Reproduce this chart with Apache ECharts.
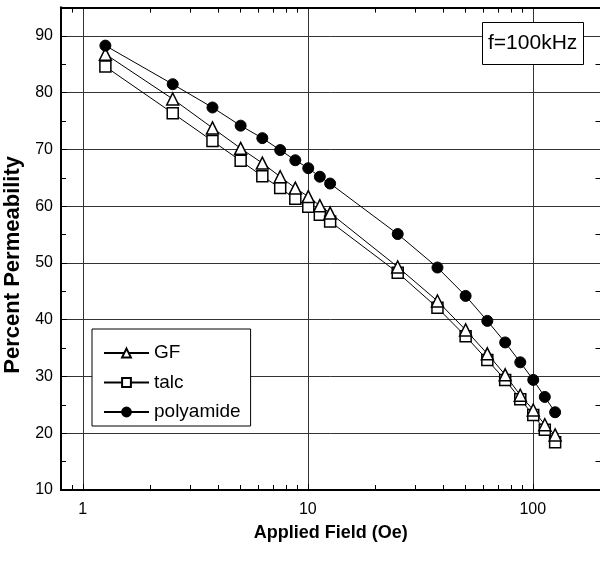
<!DOCTYPE html>
<html>
<head>
<meta charset="utf-8">
<script src="https://cdn.jsdelivr.net/npm/echarts@6/dist/echarts.min.js"></script>
<style>
  html, body { margin: 0; padding: 0; background: #fff; }
  #chart { width: 600px; height: 561px; }
</style>
</head>
<body>
<div id="chart"></div>
<script>
// applied field values (Oe), shared by all three samples
const fieldOe = [1.26, 2.51, 3.77, 5.03, 6.28, 7.54, 8.8, 10.05, 11.31, 12.57,
  25.1, 37.7, 50.3, 62.8, 75.4, 88.0, 100.5, 113.1, 125.7];

const gfValues = [86.8, 78.9, 73.8, 70.2, 67.6, 65.2, 63.2, 61.7, 60.1, 58.8,
  49.3, 43.3, 38.2, 34.0, 30.3, 26.7, 24.1, 21.5, 19.7];
const talcValues = [84.6, 76.4, 71.5, 68.0, 65.3, 63.2, 61.3, 59.9, 58.5, 57.3,
  48.3, 42.1, 37.1, 32.9, 29.4, 26.0, 23.2, 20.6, 18.4];
const polyamideValues = [88.3, 81.5, 77.4, 74.2, 72.0, 69.9, 68.1, 66.7, 65.2, 64.0,
  55.1, 49.2, 44.2, 39.8, 36.0, 32.5, 29.4, 26.4, 23.7];

const xLabels = [1, 10, 100];
const xMinorTicks = [0.9, 2, 3, 4, 5, 6, 7, 8, 9, 20, 30, 40, 50, 60, 70, 80, 90];
const yLabels = [10, 20, 30, 40, 50, 60, 70, 80, 90];
const yMinorTicks = [15, 25, 35, 45, 55, 65, 75, 85];

const FONT = "Liberation Sans";
const pairs = (ys) => fieldOe.map((x, i) => [x, ys[i]]);

const chart = echarts.init(document.getElementById("chart"));

const xBase = {
  type: "log",
  logBase: 10,
  min: 0.8,
  max: 200,
  axisLine: { show: true, lineStyle: { color: "#000", width: 2 } },
  splitLine: { show: false },
  axisLabel: { show: false },
};
const yBase = {
  type: "value",
  min: 10,
  max: 95,
  interval: 5,
  axisLine: { show: true, lineStyle: { color: "#000", width: 2 } },
  splitLine: { show: false },
  axisLabel: { show: false },
};
const tick = (values, len) => ({
  show: true, inside: true, length: len, customValues: values,
  lineStyle: { color: "#000", width: 1 },
});

const option = {
  animation: false,
  backgroundColor: "#fff",
  textStyle: { fontFamily: FONT },
  grid: {
    left: 61, top: 7.6, width: 539.5, height: 482.4,
    containLabel: false, outerBoundsMode: "none",
  },
  title: {
    text: "f=100kHz",
    left: 482,
    top: 22,
    padding: [10, 6, 10, 6],
    borderColor: "#000",
    borderWidth: 1,
    backgroundColor: "#fff",
    textStyle: { fontFamily: FONT, fontSize: 21, fontWeight: "normal", color: "#000", lineHeight: 23 },
  },
  legend: {
    orient: "vertical",
    left: 92,
    top: 329,
    padding: [14, 10, 4, 11],
    itemWidth: 45,
    itemHeight: 11,
    itemGap: 9.5,
    borderColor: "#000",
    borderWidth: 1,
    backgroundColor: "#fff",
    textStyle: { fontFamily: FONT, fontSize: 19, lineHeight: 20, color: "#000" },
    data: ["GF", "talc", "polyamide"],
  },
  xAxis: [
    {
      ...xBase,
      position: "bottom",
      name: "Applied Field (Oe)",
      nameLocation: "middle",
      nameGap: 34,
      nameTextStyle: { fontFamily: FONT, fontSize: 18, fontWeight: "bold", color: "#000" },
      axisTick: tick(xLabels, 6),
      axisLabel: {
        show: true, customValues: xLabels, margin: 12,
        fontFamily: FONT, fontSize: 16, color: "#000",
      },
      splitLine: { show: true, lineStyle: { color: "#333", width: 1 } },
    },
    { ...xBase, position: "bottom", axisTick: tick(xMinorTicks, 5) },
    { ...xBase, position: "top", axisTick: tick(xMinorTicks, 5) },
  ],
  yAxis: [
    {
      ...yBase,
      position: "left",
      name: "Percent Permeability",
      nameLocation: "middle",
      nameGap: 34,
      nameTextStyle: {
        fontFamily: FONT, fontSize: 22, fontWeight: "bold", color: "#000",
        padding: [0, 32, 0, 0],
      },
      axisTick: tick(yLabels, 6),
      axisLabel: {
        show: true, customValues: yLabels, margin: 8,
        fontFamily: FONT, fontSize: 16, color: "#000",
      },
      splitLine: { show: true, lineStyle: { color: "#333", width: 1 } },
    },
    { ...yBase, position: "left", axisTick: tick(yMinorTicks, 5) },
    { ...yBase, position: "right", axisTick: tick(yMinorTicks.concat([95]), 5) },
  ],
  series: [
    {
      name: "GF",
      type: "line",
      data: pairs(gfValues),
      symbol: "triangle",
      symbolSize: 12,
      lineStyle: { color: "#000", width: 1 },
      itemStyle: { color: "#fff", borderColor: "#000", borderWidth: 1.5 },
      z: 3,
    },
    {
      name: "talc",
      type: "line",
      data: pairs(talcValues),
      symbol: "rect",
      symbolSize: 11,
      lineStyle: { color: "#000", width: 1 },
      itemStyle: { color: "#fff", borderColor: "#000", borderWidth: 1.5 },
      z: 2,
    },
    {
      name: "polyamide",
      type: "line",
      data: pairs(polyamideValues),
      symbol: "circle",
      symbolSize: 11,
      lineStyle: { color: "#000", width: 1 },
      itemStyle: { color: "#000", borderColor: "#000", borderWidth: 1 },
      z: 4,
    },
  ],
};

chart.setOption(option);
</script>
</body>
</html>
